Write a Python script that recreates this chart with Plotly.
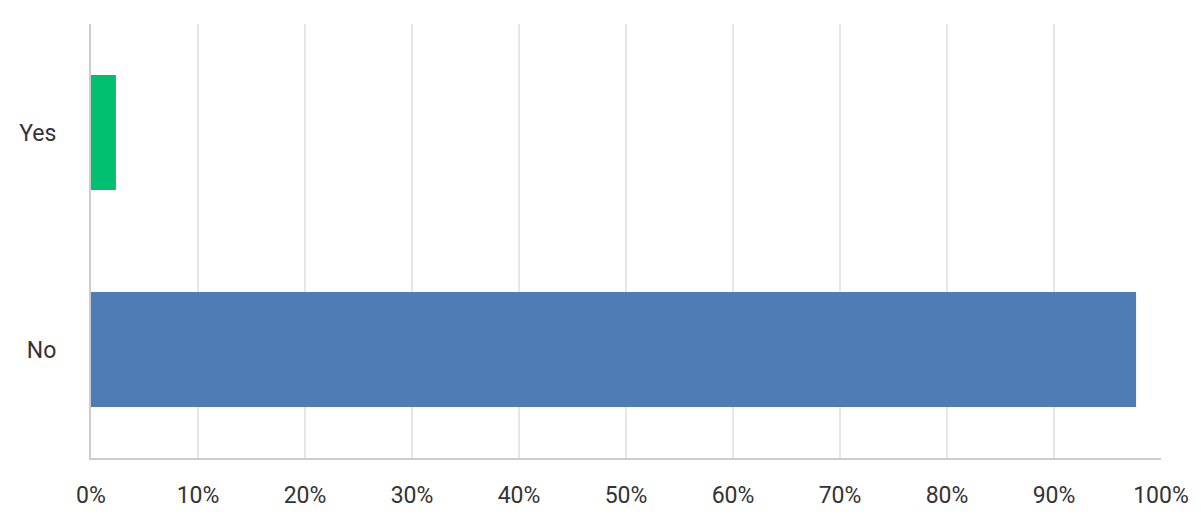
import plotly.graph_objects as go

categories = ["No", "Yes"]
values = [97.67, 2.33]
colors = ["#507CB6", "#00BF6F"]
tick_vals = [0, 10, 20, 30, 40, 50, 60, 70, 80, 90, 100]
tick_text = ["0%", "10%", "20%", "30%", "40%", "50%", "60%", "70%", "80%", "90%", "100%"]

fig = go.Figure(
    go.Bar(
        x=values,
        y=categories,
        orientation="h",
        marker=dict(color=colors, line=dict(width=0)),
        hoverinfo="x+y",
    )
)

fig.update_layout(
    width=1193,
    height=517,
    margin=dict(l=83, r=40, t=16, b=67),
    paper_bgcolor="white",
    plot_bgcolor="white",
    bargap=0.47,
    showlegend=False,
    font=dict(family="Roboto, sans-serif", size=23, color="#333333"),
)

fig.update_xaxes(
    range=[0, 100],
    tickvals=tick_vals,
    ticktext=tick_text,
    showgrid=True,
    gridcolor="#E6E6E6",
    gridwidth=2,
    showline=True,
    linecolor="#CCCCCC",
    linewidth=2,
    zeroline=False,
    ticks="",
    ticklabelstandoff=15,
    fixedrange=True,
)

fig.update_yaxes(
    categoryorder="array",
    categoryarray=categories,
    showgrid=False,
    showline=True,
    linecolor="#CCCCCC",
    linewidth=2,
    zeroline=False,
    ticks="",
    ticklabelstandoff=28,
    fixedrange=True,
)

fig.write_html("out.html")
